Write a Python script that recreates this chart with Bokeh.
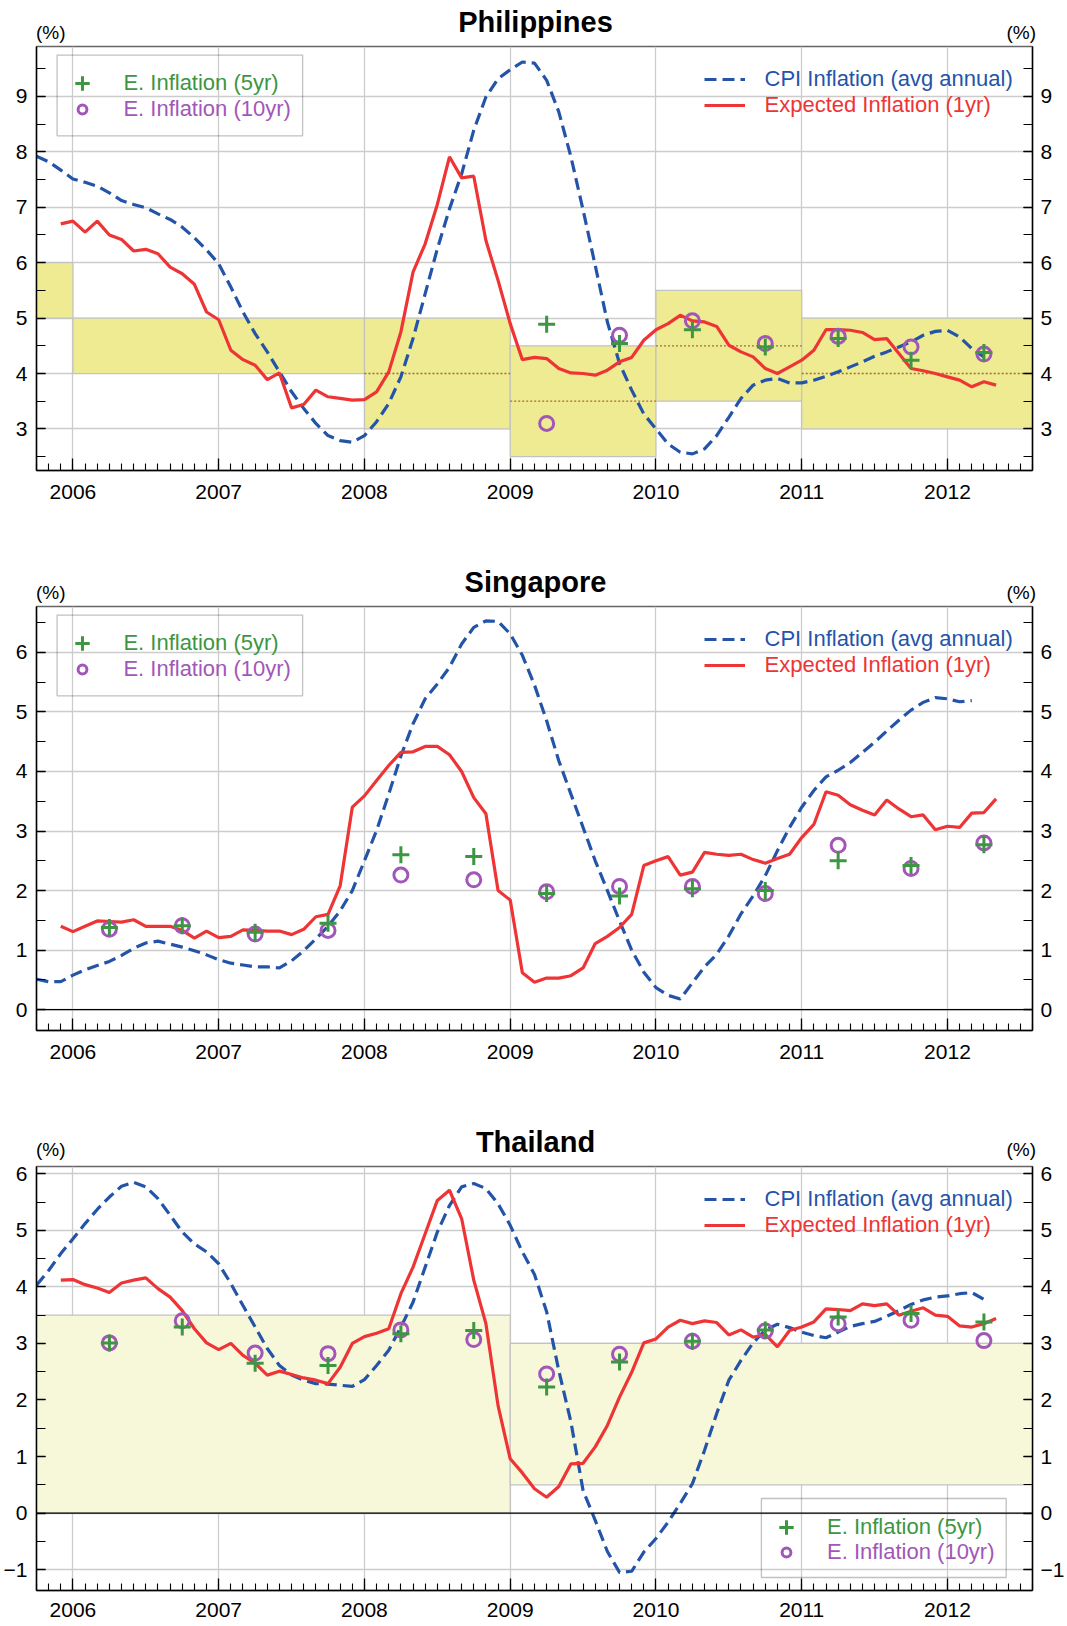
import numpy as np
import pandas as pd
from bokeh.plotting import figure
from bokeh.layouts import column
from bokeh.models import (Range1d, LinearAxis, SingleIntervalTicker, Legend, LegendItem,
                          Label, BoxAnnotation, Span, Plot)
from bokeh.embed import file_html
from bokeh.resources import INLINE

# ------------------------------------------------------------------ data
SURVEY_DATES = ["2006-04", "2006-10", "2007-04", "2007-10", "2008-04", "2008-10",
                "2009-04", "2009-10", "2010-04", "2010-10", "2011-04", "2011-10", "2012-04"]

# Philippines
PH_CPI_START = "2005-10"
PH_CPI = [7.92, 7.82, 7.67, 7.51, 7.45, 7.38, 7.26, 7.12, 7.05, 6.99,
          6.88, 6.78, 6.64, 6.45, 6.23, 5.98, 5.56, 5.11, 4.72, 4.39,
          4.03, 3.67, 3.37, 3.10, 2.88, 2.79, 2.76, 2.88, 3.13, 3.46,
          3.94, 4.63, 5.44, 6.25, 6.97, 7.60, 8.39, 8.99, 9.32, 9.48,
          9.62, 9.60, 9.29, 8.72, 7.91, 6.95, 5.95, 4.93, 4.18, 3.70,
          3.27, 3.00, 2.73, 2.58, 2.55, 2.64, 2.88, 3.21, 3.55, 3.79,
          3.88, 3.91, 3.83, 3.83, 3.88, 3.95, 4.03, 4.12, 4.21, 4.31,
          4.39, 4.48, 4.57, 4.69, 4.76, 4.78, 4.66, 4.45, 4.30]
PH_EXP_START = "2005-12"
PH_EXP = [6.70, 6.75, 6.55, 6.75, 6.50, 6.42, 6.21, 6.24, 6.16, 5.92,
          5.80, 5.61, 5.11, 4.97, 4.42, 4.25, 4.15, 3.89, 4.01, 3.38,
          3.44, 3.70, 3.58, 3.55, 3.52, 3.53, 3.67, 4.03, 4.75, 5.83,
          6.34, 7.05, 7.91, 7.53, 7.56, 6.40, 5.68, 4.90, 4.25, 4.29,
          4.27, 4.09, 4.01, 4.00, 3.97, 4.06, 4.21, 4.29, 4.60, 4.79,
          4.90, 5.05, 4.95, 4.93, 4.85, 4.51, 4.39, 4.30, 4.09, 4.00,
          4.12, 4.24, 4.42, 4.79, 4.79, 4.78, 4.74, 4.61, 4.63, 4.36,
          4.09, 4.05, 4.00, 3.94, 3.88, 3.76, 3.85, 3.79]
PH_SURVEY_DATES = SURVEY_DATES[6:]
PH_E5 = [4.89, 4.54, 4.79, 4.48, 4.63, 4.24, 4.38]
PH_E10 = [3.10, 4.69, 4.95, 4.54, 4.67, 4.48, 4.35]
# inflation target bands
PH_BAND_START = [2005, 2006, 2008, 2009, 2010, 2011]
PH_BAND_END = [2006, 2008, 2009, 2010, 2011, 2013]
PH_BAND_LOW = [5.0, 4.0, 3.0, 2.5, 3.5, 3.0]
PH_BAND_HIGH = [6.0, 5.0, 5.0, 4.5, 5.5, 5.0]
PH_TARGET_START = [2008, 2009, 2010, 2011]
PH_TARGET_END = [2009, 2010, 2011, 2013]
PH_TARGET = [4.0, 3.5, 4.5, 4.0]

# Singapore
SG_CPI_START = "2005-10"
SG_CPI = [0.51, 0.47, 0.47, 0.58, 0.67, 0.74, 0.81, 0.91, 1.03, 1.12,
          1.15, 1.10, 1.05, 0.99, 0.92, 0.84, 0.78, 0.75, 0.72, 0.72,
          0.70, 0.82, 0.99, 1.19, 1.40, 1.66, 2.00, 2.50, 3.01, 3.62,
          4.26, 4.80, 5.22, 5.47, 5.75, 6.14, 6.42, 6.53, 6.52, 6.31,
          5.95, 5.45, 4.85, 4.18, 3.62, 3.06, 2.50, 2.00, 1.49, 1.00,
          0.63, 0.37, 0.24, 0.18, 0.45, 0.72, 0.93, 1.24, 1.61, 1.91,
          2.25, 2.67, 3.06, 3.40, 3.68, 3.91, 4.02, 4.15, 4.32, 4.49,
          4.68, 4.86, 5.03, 5.16, 5.24, 5.22, 5.17, 5.19]
SG_EXP_START = "2005-12"
SG_EXP = [1.40, 1.31, 1.40, 1.49, 1.48, 1.47, 1.51, 1.40, 1.40, 1.40,
          1.33, 1.20, 1.32, 1.21, 1.23, 1.34, 1.33, 1.32, 1.32, 1.26,
          1.35, 1.56, 1.60, 2.08, 3.40, 3.59, 3.85, 4.10, 4.32, 4.33,
          4.42, 4.42, 4.28, 4.00, 3.56, 3.29, 2.00, 1.84, 0.62, 0.46,
          0.53, 0.53, 0.57, 0.70, 1.11, 1.23, 1.38, 1.60, 2.42, 2.50,
          2.57, 2.26, 2.31, 2.64, 2.61, 2.59, 2.61, 2.52, 2.46, 2.54,
          2.61, 2.89, 3.11, 3.66, 3.60, 3.44, 3.35, 3.27, 3.52, 3.37,
          3.24, 3.27, 3.02, 3.08, 3.06, 3.30, 3.31, 3.54]
SG_SURVEY_DATES = SURVEY_DATES
SG_E5 = [1.38, 1.41, 1.30, 1.45, 2.60, 2.57, 1.95, 1.91, 2.03, 2.00, 2.50, 2.42, 2.77]
SG_E10 = [1.35, 1.41, 1.27, 1.33, 2.26, 2.18, 1.98, 2.07, 2.07, 1.95, 2.76, 2.37, 2.80]

# Thailand
TH_CPI_START = "2005-10"
TH_CPI = [4.03, 4.29, 4.59, 4.85, 5.12, 5.37, 5.59, 5.78, 5.85, 5.77,
          5.56, 5.27, 4.97, 4.76, 4.62, 4.41, 4.06, 3.67, 3.29, 2.91,
          2.61, 2.44, 2.35, 2.29, 2.28, 2.26, 2.24, 2.36, 2.61, 2.88,
          3.29, 3.73, 4.35, 4.97, 5.44, 5.77, 5.83, 5.74, 5.47, 5.09,
          4.62, 4.22, 3.56, 2.52, 1.61, 0.40, -0.13, -0.68, -1.05, -1.03,
          -0.69, -0.45, -0.16, 0.17, 0.52, 1.11, 1.76, 2.35, 2.70, 3.01,
          3.24, 3.34, 3.28, 3.20, 3.14, 3.10, 3.20, 3.30, 3.35, 3.39,
          3.48, 3.58, 3.69, 3.77, 3.82, 3.84, 3.88, 3.90, 3.78]
TH_EXP_START = "2005-12"
TH_EXP = [4.12, 4.13, 4.04, 3.98, 3.90, 4.07, 4.12, 4.16, 3.97, 3.82,
          3.58, 3.26, 3.01, 2.89, 3.00, 2.79, 2.65, 2.44, 2.51, 2.45,
          2.39, 2.35, 2.29, 2.58, 3.00, 3.12, 3.18, 3.26, 3.88, 4.35,
          4.94, 5.53, 5.71, 5.21, 4.12, 3.35, 1.90, 0.96, 0.71, 0.43,
          0.28, 0.47, 0.87, 0.88, 1.17, 1.55, 2.05, 2.49, 3.01, 3.08,
          3.29, 3.41, 3.35, 3.40, 3.37, 3.15, 3.24, 3.11, 3.16, 2.94,
          3.23, 3.29, 3.38, 3.61, 3.60, 3.58, 3.70, 3.67, 3.70, 3.50,
          3.57, 3.63, 3.50, 3.48, 3.31, 3.29, 3.35, 3.44]
TH_SURVEY_DATES = SURVEY_DATES
TH_E5 = [3.01, 3.29, 2.65, 2.61, 3.17, 3.23, 2.23, 2.67, 3.04, 3.24, 3.47, 3.53, 3.38]
TH_E10 = [3.01, 3.40, 2.83, 2.82, 3.24, 3.07, 2.46, 2.81, 3.04, 3.22, 3.35, 3.41, 3.05]
TH_BAND_START = [2005, 2009]
TH_BAND_END = [2009, 2013]
TH_BAND_LOW = [0.0, 0.5]
TH_BAND_HIGH = [3.5, 3.0]

X_START, X_END = "2005-10", "2012-08"

# ------------------------------------------------------------------ styling
BLUE = "#2454a8"
RED = "#ee3434"
GREEN = "#3d9642"
PURPLE = "#a257b8"
BAND_PH = "#eeeb92"
BAND_TH = "#f7f7da"
GRID = "#cccccc"
FONT = "Liberation Sans"

FRAME_W, FRAME_H = 1000, 424
FIG_W = 1067
BORDER_L, BORDER_R = 35, 32
HEAD_H = 46          # space from top of a panel block to the frame top
TITLE_CY = 21.7      # title centre, from top of the block
PCT_CY = 32.1        # "(%)" centre, from top of the block

HAS_FA = "frame_align" in Plot.properties()


def dec_year(ym):
    y, m = ym.split("-")
    return int(y) + (int(m) - 1) / 12.0


def monthly_x(start, n):
    per = pd.period_range(start, periods=n, freq="M")
    return list(per.year + (per.month - 1) / 12.0)


def style_axis(ax, major_in, minor_in, standoff):
    ax.major_tick_in = major_in
    ax.major_tick_out = 0
    ax.minor_tick_in = minor_in
    ax.minor_tick_out = 0
    ax.axis_line_color = "black"
    ax.axis_line_width = 1.5
    ax.major_tick_line_color = "black"
    ax.major_tick_line_width = 1.3
    ax.minor_tick_line_color = "black"
    ax.minor_tick_line_width = 1.1
    ax.major_label_text_font = FONT
    ax.major_label_text_font_size = "21px"
    ax.major_label_text_color = "black"
    ax.major_label_standoff = standoff


def row_legend(p, r, label, color, cx, cy, tx, w, h):
    # cx, cy, tx measured from frame top-left (y downward)
    left = cx - w / 2.0
    top = cy - h / 2.0
    lg = Legend(items=[LegendItem(label=label, renderers=[r])],
                location=(left, FRAME_H - top - h),
                glyph_width=w, glyph_height=h, label_height=h, label_width=10,
                label_standoff=int(round(tx - cx - w / 2.0)),
                padding=0, spacing=0, margin=0,
                border_line_alpha=0, background_fill_alpha=0,
                label_text_font=FONT, label_text_font_size="22px",
                label_text_color=color)
    p.add_layout(lg, "center")


def make_strip(title, strip_h):
    extra = {"frame_align": False} if HAS_FA else {}
    s = figure(width=FIG_W, height=strip_h, x_range=Range1d(0, 1), y_range=Range1d(0, 1),
               output_backend="svg", toolbar_location=None,
               x_axis_location=None, y_axis_location=None,
               min_border_left=0, min_border_right=0, min_border_top=0,
               min_border_bottom=0, **extra)
    s.title.visible = False
    s.outline_line_color = None
    s.grid.visible = False
    s.background_fill_color = "white"
    s.border_fill_color = "white"
    s.add_layout(Label(x=BORDER_L + FRAME_W / 2.0, y=strip_h - TITLE_CY,
                       x_units="screen", y_units="screen", text=title,
                       text_align="center", text_baseline="middle", text_font=FONT,
                       text_font_size="29px", text_font_style="bold",
                       text_color="black"))
    pct_y = max(strip_h - PCT_CY, 11.0)
    for xx, al in ((BORDER_L + 0.5, "left"), (BORDER_L + FRAME_W + 0.5, "right")):
        s.add_layout(Label(x=xx, y=pct_y, x_units="screen", y_units="screen",
                           text="(%)", text_align=al, text_baseline="middle",
                           text_font=FONT, text_font_size="19px",
                           text_color="black"))
    return s


def make_panel(cpi_start, cpi, exp_start, exp, sdates, e5, e10, yr, top, bottom,
               xstandoff, bands=None, band_color=None, targets=None, zero_line=False,
               survey_legend="top_left"):
    p = figure(width=FIG_W, height=top + FRAME_H + bottom,
               x_range=Range1d(dec_year(X_START), dec_year(X_END)),
               y_range=Range1d(*yr), output_backend="svg", toolbar_location=None,
               min_border_left=BORDER_L, min_border_right=BORDER_R,
               min_border_top=top, min_border_bottom=bottom)
    p.title.visible = False
    p.background_fill_color = "white"
    p.border_fill_color = "white"
    p.outline_line_color = "#666666"
    p.outline_line_width = 1.3

    xt = SingleIntervalTicker(interval=1, num_minor_ticks=12)
    yt = SingleIntervalTicker(interval=1, num_minor_ticks=2)
    p.xaxis.ticker = xt
    p.yaxis.ticker = yt
    p.xgrid.ticker = xt
    p.ygrid.ticker = yt
    for g in (p.xgrid, p.ygrid):
        g.grid_line_color = GRID
        g.grid_line_width = 1.3
    style_axis(p.xaxis[0], 12, 7, xstandoff)
    style_axis(p.yaxis[0], 9, 9, 9)
    ra = LinearAxis(ticker=yt)
    style_axis(ra, 9, 9, 8)
    p.add_layout(ra, "right")

    if bands is not None:
        bs, be, bl, bh = bands
        p.quad(left=bs, right=be, bottom=bl, top=bh, fill_color=band_color,
               line_color="#c2c2c2", line_width=1.2)
    if targets is not None:
        ts, te, tv = targets
        p.segment(x0=ts, x1=te, y0=tv, y1=tv, line_color="#a8683c",
                  line_width=1.3, line_dash="2 2")
    if zero_line:
        p.add_layout(Span(location=0, dimension="width", line_color="black",
                          line_width=1.2))

    r_cpi = p.line(monthly_x(cpi_start, len(cpi)), cpi, line_color=BLUE,
                   line_width=3.2, line_dash="12 6")
    r_exp = p.line(monthly_x(exp_start, len(exp)), exp, line_color=RED,
                   line_width=3.2)
    sx = [dec_year(d) for d in sdates]
    r10 = p.scatter(sx, e10, marker="circle", size=14, fill_color=None,
                    line_color=PURPLE, line_width=3)
    r5 = p.scatter(sx, e5, marker="cross", size=17, line_color=GREEN,
                   line_width=3)

    # line legend (top right, no box)
    row_legend(p, r_cpi, "CPI Inflation (avg annual)", BLUE, 688, 33, 729, 41, 30)
    row_legend(p, r_exp, "Expected Inflation (1yr)", RED, 688, 59, 729, 41, 30)

    # survey legend (boxed)
    if survey_legend == "top_left":
        bx0, bx1, by0, by1 = 20.6, 266.1, 8.6, 89.3
        cx, tx, cy1, cy2 = 46.4, 87, 37, 63
    else:
        bx0, bx1, by0, by1 = 724.9, 969.7, 332, 411
        cx, tx, cy1, cy2 = 750, 790.7, 360.5, 385.5
    p.add_layout(BoxAnnotation(left=bx0, right=bx1, top=FRAME_H - by0,
                               bottom=FRAME_H - by1, left_units="screen",
                               right_units="screen", top_units="screen",
                               bottom_units="screen", fill_alpha=0,
                               line_color="#333333", line_width=1.3))
    row_legend(p, r5, "E. Inflation (5yr)", GREEN, cx, cy1, tx, 36, 36)
    row_legend(p, r10, "E. Inflation (10yr)", PURPLE, cx, cy2, tx, 22, 30)
    return p


s1 = make_strip("Philippines", HEAD_H - 2)
p1 = make_panel(PH_CPI_START, PH_CPI, PH_EXP_START, PH_EXP,
                PH_SURVEY_DATES, PH_E5, PH_E10, (2.25, 9.9), 2, 90, 14,
                bands=(PH_BAND_START, PH_BAND_END, PH_BAND_LOW, PH_BAND_HIGH),
                band_color=BAND_PH,
                targets=(PH_TARGET_START, PH_TARGET_END, PH_TARGET))
s2 = make_strip("Singapore", HEAD_H - 2)
p2 = make_panel(SG_CPI_START, SG_CPI, SG_EXP_START, SG_EXP,
                SG_SURVEY_DATES, SG_E5, SG_E10, (-0.35, 6.77), 2, 90, 14,
                zero_line=True)
s3 = make_strip("Thailand", HEAD_H - 6)
p3 = make_panel(TH_CPI_START, TH_CPI, TH_EXP_START, TH_EXP,
                TH_SURVEY_DATES, TH_E5, TH_E10, (-1.37, 6.13), 6, 36, 12,
                bands=(TH_BAND_START, TH_BAND_END, TH_BAND_LOW, TH_BAND_HIGH),
                band_color=BAND_TH, zero_line=True, survey_legend="bottom_right")

layout = column(s1, p1, s2, p2, s3, p3, spacing=0)
open("out.html", "w").write(file_html(layout, INLINE))
